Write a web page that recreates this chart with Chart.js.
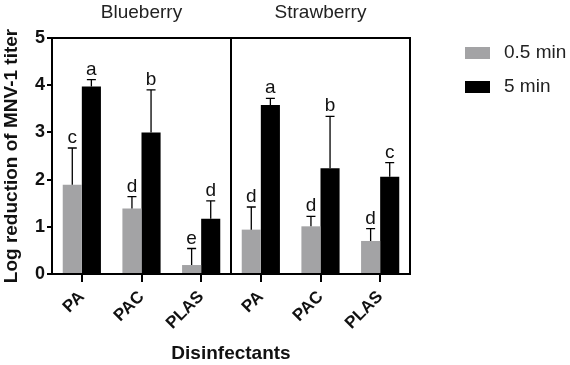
<!DOCTYPE html>
<html lang="en">
<head>
  <meta charset="UTF-8">
  <title>Log reduction of MNV-1</title>
  <script src="https://cdn.jsdelivr.net/npm/chart.js"></script>
  <style>
    html, body { margin: 0; padding: 0; background: #fff; }
    .box { width: 570px; height: 365px; }
  </style>
</head>
<body>
  <div class="box">
    <canvas id="myChart" width="570" height="365"></canvas>
  </div>
<script>
  // dados
  const categorias = ['PA', 'PAC', 'PLAS', 'PA', 'PAC', 'PLAS'];
  const grupos = ['Blueberry', 'Strawberry'];
  const serie05 = [1.89, 1.39, 0.19, 0.94, 1.01, 0.70];
  const serie5 = [3.97, 3.00, 1.17, 3.58, 2.24, 2.06];
  const erro05 = [0.78, 0.25, 0.35, 0.48, 0.21, 0.26];
  const erro5 = [0.15, 0.90, 0.38, 0.14, 1.10, 0.30];
  const letras05 = ['c', 'd', 'e', 'd', 'd', 'd'];
  const letras5 = ['a', 'b', 'd', 'a', 'b', 'c'];
  const yTicks = [0, 1, 2, 3, 4, 5];

  const FONTE = 'Arial, "Liberation Sans", Helvetica, sans-serif';
  const CINZA = '#a3a3a5';

  // barras de erro, letras, moldura, titulos e legenda
  const extras = {
    id: 'extras',
    afterDatasetsDraw(chart) {
      const ctx = chart.ctx;
      const y = chart.scales.y;
      const x = chart.scales.x;
      const area = chart.chartArea;
      const erros = [erro05, erro5];
      const letras = [letras05, letras5];

      ctx.save();
      chart.data.datasets.forEach(function (ds, i) {
        const meta = chart.getDatasetMeta(i);
        meta.data.forEach(function (bar, j) {
          const topo = y.getPixelForValue(ds.data[j] + erros[i][j]);
          ctx.strokeStyle = '#000';
          ctx.lineWidth = 1.3;
          ctx.beginPath();
          ctx.moveTo(bar.x, bar.y);
          ctx.lineTo(bar.x, topo);
          ctx.moveTo(bar.x - 4.5, topo);
          ctx.lineTo(bar.x + 4.5, topo);
          ctx.stroke();

          ctx.fillStyle = '#111';
          ctx.font = '19px ' + FONTE;
          ctx.textAlign = 'center';
          ctx.textBaseline = 'alphabetic';
          ctx.fillText(letras[i][j], bar.x, topo - 5);
        });
      });

      // moldura: topo, direita e divisoria
      const meio = (x.getPixelForValue(2) + x.getPixelForValue(3)) / 2;
      ctx.strokeStyle = '#000';
      ctx.lineWidth = 2;
      ctx.beginPath();
      ctx.moveTo(area.left, area.top);
      ctx.lineTo(area.right, area.top);
      ctx.lineTo(area.right, area.bottom);
      ctx.moveTo(meio, area.top);
      ctx.lineTo(meio, area.bottom);
      ctx.stroke();

      // titulos dos grupos
      ctx.fillStyle = '#222';
      ctx.font = '19px ' + FONTE;
      ctx.textAlign = 'center';
      ctx.textBaseline = 'middle';
      ctx.fillText(grupos[0], x.getPixelForValue(1), 13);
      ctx.fillText(grupos[1], x.getPixelForValue(4), 13);

      // legenda
      ctx.textAlign = 'left';
      chart.data.datasets.forEach(function (ds, i) {
        const ly = 53 + i * 34;
        ctx.fillStyle = ds.backgroundColor;
        ctx.fillRect(465, ly - 6, 25, 12);
        ctx.fillStyle = '#222';
        ctx.fillText(ds.label, 504, ly);
      });
      ctx.restore();
    }
  };

  const dados = {
    labels: categorias,
    datasets: [
      { label: '0.5 min', data: serie05, backgroundColor: CINZA },
      { label: '5 min', data: serie5, backgroundColor: '#000' }
    ]
  };

  const config = {
    type: 'bar',
    data: dados,
    options: {
      responsive: false,
      animation: false,
      layout: { padding: { top: 38, right: 160, left: 0, bottom: 0 } },
      datasets: { bar: { categoryPercentage: 0.64, barPercentage: 1.0 } },
      plugins: { legend: { display: false }, tooltip: { enabled: false } },
      scales: {
        x: {
          afterFit(scale) { scale.height = 91; },
          grid: { offset: false, drawOnChartArea: false, drawTicks: true, tickLength: 8, color: '#000', lineWidth: 2 },
          border: { color: '#000', width: 2 },
          ticks: {
            color: '#111', minRotation: 45, maxRotation: 45, padding: 5,
            font: { family: FONTE, size: 17, weight: 'bold' }
          },
          title: {
            display: true, text: 'Disinfectants', color: '#111',
            font: { family: FONTE, size: 19, weight: 'bold' },
            padding: { top: 0, bottom: 0 }
          }
        },
        y: {
          min: 0, max: 5,
          afterFit(scale) { scale.width = 52; },
          afterBuildTicks(scale) { scale.ticks = yTicks.map(v => ({ value: v })); },
          grid: { drawOnChartArea: false, drawTicks: true, tickLength: 5, color: '#000', lineWidth: 2 },
          border: { color: '#000', width: 2 },
          ticks: {
            color: '#111', padding: 2,
            font: { family: FONTE, size: 18, weight: 'bold' }
          },
          title: {
            display: true, text: 'Log reduction of MNV-1 titer', color: '#111',
            font: { family: FONTE, size: 19, weight: 'bold' },
            padding: { top: 0, bottom: 0 }
          }
        }
      }
    },
    plugins: [extras]
  };

  let myChart = new Chart(document.getElementById('myChart'), config);
</script>
</body>
</html>
